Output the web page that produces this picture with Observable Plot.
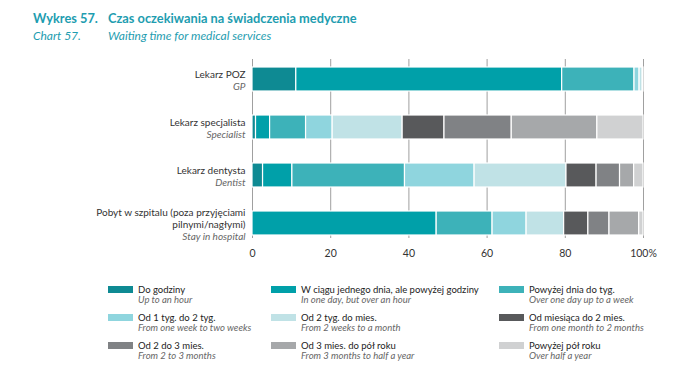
<!DOCTYPE html>
<html><head><meta charset="utf-8">
<script src="https://cdn.jsdelivr.net/npm/d3@7"></script>
<script src="https://cdn.jsdelivr.net/npm/@observablehq/plot@0.6"></script>
<style>
body{margin:0;background:#fff;font-family:Lato,"Open Sans",sans-serif;}
#wrap{position:relative;width:698px;height:374px;overflow:hidden;}
.t{position:absolute;white-space:nowrap;color:#1e9db0;}
#chart{position:absolute;left:0;top:0;}
.lg{position:absolute;font-size:9.5px;white-space:nowrap;}
.sw{position:absolute;width:25px;height:7px;}
.pl{position:absolute;color:#222;line-height:12px;}
.en{position:absolute;color:#666;font-style:italic;line-height:12px;}
</style></head>
<body><div id="wrap">
<div class="t" style="left:33px;top:10px;font-weight:bold;font-size:12.8px;">Wykres 57.</div>
<div class="t" style="left:108px;top:10px;font-weight:bold;font-size:12.8px;">Czas oczekiwania na świadczenia medyczne</div>
<div class="t" style="left:33px;top:28px;font-style:italic;font-size:12px;">Chart 57.</div>
<div class="t" style="left:108px;top:28px;font-style:italic;font-size:12px;">Waiting time for medical services</div>
<div id="chart"></div>
<div id="legend"></div>
</div>
<script>
const categories = ["Lekarz POZ", "Lekarz specjalista", "Lekarz dentysta", "Pobyt w szpitalu"];
const categoryLabelsPl = [["Lekarz POZ"], ["Lekarz specjalista"], ["Lekarz dentysta"], ["Pobyt w szpitalu (poza przyjęciami", "pilnymi/nagłymi)"]];
const categoryLabelsEn = ["GP", "Specialist", "Dentist", "Stay in hospital"];
const series = ["Do godziny", "W ciągu jednego dnia, ale powyżej godziny", "Powyżej dnia do tyg.", "Od 1 tyg. do 2 tyg.", "Od 2 tyg. do mies.", "Od miesiąca do 2 mies.", "Od 2 do 3 mies.", "Od 3 mies. do pół roku", "Powyżej pół roku"];
const seriesEn = ["Up to an hour", "In one day, but over an hour", "Over one day up to a week", "From one week to two weeks", "From 2 weeks to a month", "From one month to 2 months", "From 2 to 3 months", "From 3 months  to half a year", "Over half a year"];
const colors = ["#0e8a93", "#00a0a9", "#3db2b9", "#8fd5de", "#c0e2e6", "#58595b", "#808285", "#a6a8aa", "#d0d1d2"];
const valuesPOZ = [11.2, 68.0, 18.5, 1.3, 0.8, 0, 0, 0, 0.2];
const valuesSpecialist = [0.9, 3.6, 9.2, 6.8, 17.9, 10.7, 17.2, 21.9, 11.8];
const valuesDentist = [2.7, 7.5, 28.8, 17.8, 23.5, 7.7, 6.0, 3.6, 2.4];
const valuesHospital = [0, 47.1, 14.3, 8.7, 9.6, 6.2, 5.4, 7.6, 1.1];
const xTicks = [0, 20, 40, 60, 80, 100];

const allValues = [valuesPOZ, valuesSpecialist, valuesDentist, valuesHospital];
const data = [];
categories.forEach((c, ci) => series.forEach((s, si) => data.push({cat: c, series: s, value: allValues[ci][si]})));

const lines = [];
categories.forEach((c, ci) => {
  const arr = categoryLabelsPl[ci].map(t => ({t, en: false})).concat([{t: categoryLabelsEn[ci], en: true}]);
  const n = arr.length;
  arr.forEach((l, i) => lines.push({cat: c, t: l.t, en: l.en, off: (i - (n - 1) / 2) * 12 + 1}));
});
const offs = [...new Set(lines.map(d => d.off))];
const labelMarks = [];
for (const o of offs) {
  for (const en of [false, true]) {
    const sub = lines.filter(d => d.off === o && d.en === en);
    if (!sub.length) continue;
    labelMarks.push(Plot.text(sub, {x: () => 0, y: "cat", text: "t", textAnchor: "end", dx: -7, dy: o,
      fill: en ? "#666" : "#333", fontStyle: en ? "italic" : "normal", fontWeight: 400, fontSize: 10}));
  }
}

const plot = Plot.plot({
  width: 698, height: 268,
  marginTop: 59, marginBottom: 30, marginLeft: 252, marginRight: 55,
  style: {fontFamily: "Lato, 'Open Sans', sans-serif", fontSize: "10px", background: "transparent"},
  x: {domain: [0, 100], axis: null, label: null},
  y: {domain: categories, range: [55, 247], paddingInner: 0.5, paddingOuter: 0.25, axis: null},
  color: {domain: series, range: colors},
  marks: [
    Plot.ruleX(xTicks, {stroke: "#777", strokeWidth: 0.7}),
    Plot.barX(data, {x: "value", y: "cat", fill: "series", order: series, stroke: "white", strokeWidth: 1.2}),
    Plot.axisX(xTicks, {tickSize: 0, tickPadding: 0, dy: 11, label: null, tickFormat: d => d === 100 ? "100%" : d, fill: "#333", fontSize: 10.5}),
    ...labelMarks
  ]
});
document.getElementById("chart").appendChild(plot);

const lg = document.getElementById("legend");
const colLeft = [108, 271, 499];
series.forEach((s, i) => {
  const col = i % 3, row = Math.floor(i / 3);
  const left = colLeft[col], top = 286 + row * 28;
  const sw = document.createElement("div");
  sw.className = "sw"; sw.style.left = left + "px"; sw.style.top = top + "px"; sw.style.background = colors[i];
  lg.appendChild(sw);
  const pl = document.createElement("div");
  pl.className = "lg pl"; pl.style.left = (left + 30) + "px"; pl.style.top = (top - 2) + "px"; pl.textContent = s;
  lg.appendChild(pl);
  const en = document.createElement("div");
  en.className = "lg en"; en.style.left = (left + 30) + "px"; en.style.top = (top + 8) + "px"; en.textContent = seriesEn[i];
  lg.appendChild(en);
});
</script>
</body></html>
